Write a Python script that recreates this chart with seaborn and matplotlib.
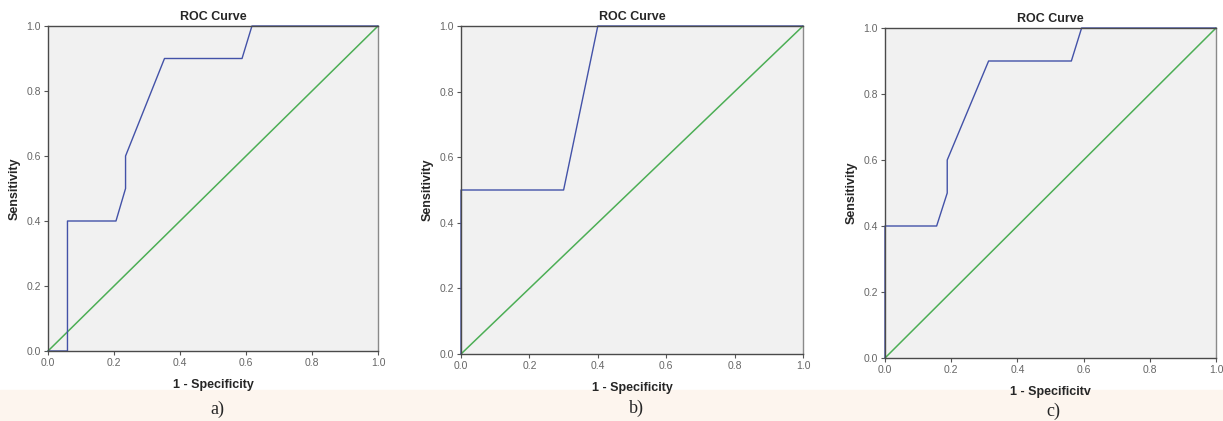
import numpy as np
import pandas as pd
import matplotlib
matplotlib.use("Agg")
import matplotlib.pyplot as plt
import seaborn as sns

# ROC points (1 - specificity, sensitivity)
fpr_a = [0.0, 0.059, 0.059, 0.206, 0.235, 0.235, 0.353, 0.588, 0.618, 1.0]
tpr_a = [0.0, 0.0, 0.4, 0.4, 0.5, 0.6, 0.9, 0.9, 1.0, 1.0]

fpr_b = [0.0, 0.0, 0.3, 0.4, 1.0]
tpr_b = [0.0, 0.5, 0.5, 1.0, 1.0]

fpr_c = [0.0, 0.0, 0.156, 0.188, 0.188, 0.313, 0.563, 0.594, 1.0]
tpr_c = [0.0, 0.4, 0.4, 0.5, 0.6, 0.9, 0.9, 1.0, 1.0]

ref_line = [0.0, 1.0]
ticks = [0.0, 0.2, 0.4, 0.6, 0.8, 1.0]
tick_labels = ["0.0", "0.2", "0.4", "0.6", "0.8", "1.0"]
captions = ["a)", "b)", "c)"]
xlabels = ["1 - Specificity", "1 - Specificity", "1 - Specificitv"]

sns.set_theme(style="white")
plt.rcParams['font.family'] = ['Liberation Sans', 'DejaVu Sans']

fig = plt.figure(figsize=(12.23, 4.21), dpi=100)

# pale caption band along the bottom (behind everything)
fig.patches.append(plt.Rectangle((0, 0), 1, 0.074, transform=fig.transFigure,
                                 color="#fdf5ee", zorder=-5))

# axes boxes measured in pixels: left, right, top, bottom
boxes = [(48, 378, 26, 351), (461, 803, 26, 354), (885, 1216, 28, 358)]
curves = [(fpr_a, tpr_a), (fpr_b, tpr_b), (fpr_c, tpr_c)]
cap_x = [217, 636, 1053]
cap_y = [409, 408, 411]

W, H = 1223, 421
for (l, r, t, b), (fx, ty), cap, xl, cx, cy in zip(boxes, curves, captions, xlabels, cap_x, cap_y):
    ax = fig.add_axes([l / W, (H - b) / H, (r - l) / W, (b - t) / H])
    ax.set_facecolor("#f1f1f1")

    roc = pd.DataFrame({"fpr": fx, "tpr": ty})
    diag = pd.DataFrame({"fpr": ref_line, "tpr": ref_line})
    sns.lineplot(data=diag, x="fpr", y="tpr", ax=ax, color="#4cae55",
                 linewidth=1.1, sort=False, estimator=None)
    sns.lineplot(data=roc, x="fpr", y="tpr", ax=ax, color="#4352a8",
                 linewidth=1.0, sort=False, estimator=None)
    for ln in ax.lines:
        ln.set_clip_on(False)

    ax.set_xlim(0, 1)
    ax.set_ylim(0, 1)
    ax.set_xticks(ticks)
    ax.set_xticklabels(tick_labels)
    ax.set_yticks(ticks)
    ax.set_yticklabels(tick_labels)
    ax.tick_params(axis="both", direction="out", length=3, width=0.8,
                   color="#555555", labelsize=7.5, labelcolor="#666666", pad=2)
    ax.tick_params(left=True, bottom=True)

    for side in ["left", "bottom", "top"]:
        ax.spines[side].set_color("#4a4a4a")
        ax.spines[side].set_linewidth(1.0)
    ax.spines["right"].set_color("#8a8a8a")
    ax.spines["right"].set_linewidth(1.0)

    ax.set_title("ROC Curve", fontsize=9, fontweight="bold", pad=4)
    ax.set_xlabel(xl, fontsize=9, fontweight="bold", labelpad=8)
    ax.set_ylabel("Sensitivity", fontsize=9, fontweight="bold", labelpad=4)

    fig.text(cx / W, (H - cy) / H, cap, ha="center", va="center",
             fontsize=13, family=["Liberation Serif", "DejaVu Serif"])

fig.savefig("out.png", dpi=100)
